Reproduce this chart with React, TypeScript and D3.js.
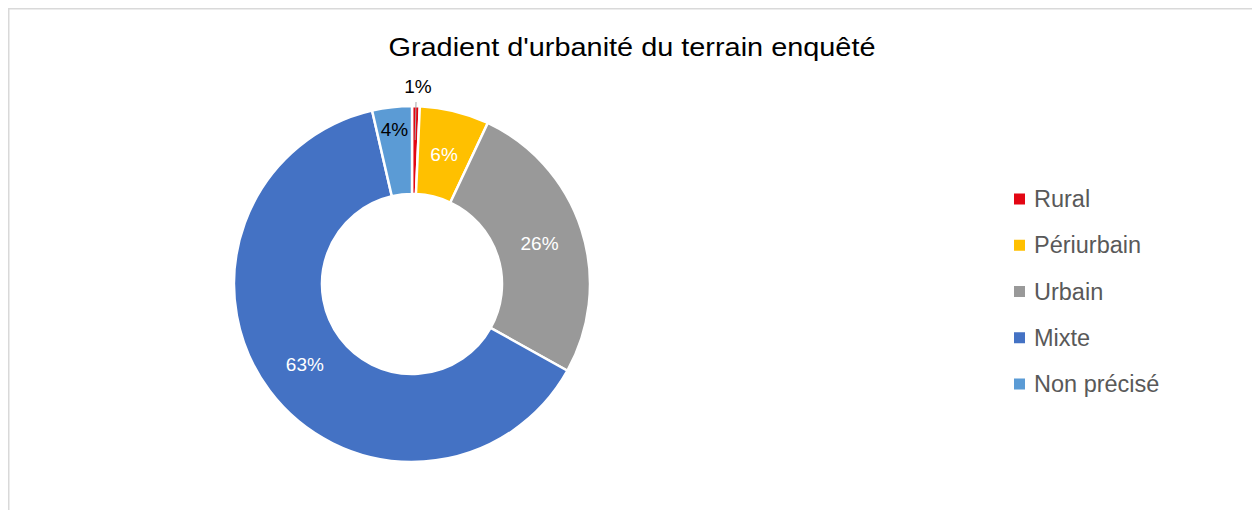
import React from "react";
import * as d3 from "d3";

const categories = ["Rural", "Périurbain", "Urbain", "Mixte", "Non précisé"];
const values = [0.7, 6.3, 26.1, 63.3, 3.6];
const colors = ["#E30613", "#FFC000", "#999999", "#4472C4", "#5B9BD5"];
const labelColors = ["#000000", "#FFFFFF", "#FFFFFF", "#FFFFFF", "#000000"];
const title = "Gradient d'urbanité du terrain enquêté";

const W = 1252;
const H = 510;
const cx = 412;
const cy = 284;
const outerR = 178;
const innerR = 90;

export default function App() {
  const data = categories.map((c, i) => ({ name: c, value: values[i], i }));
  const pie = d3.pie<any>().value((d: any) => d.value).sort(null);
  const arcs = pie(data);
  const arc = d3.arc<any>().innerRadius(innerR).outerRadius(outerR);
  const labelArc = d3.arc<any>().innerRadius(innerR + 22).outerRadius(outerR + 22);
  const fmt = (v: number) => `${Math.round(v)}%`;
  const legendY = d3.scalePoint<string>().domain(categories).range([199, 384]);

  return (
    <svg
      width={W}
      height={H}
      style={{ position: "absolute", left: 0, top: 0, fontFamily: "'Liberation Sans', Arial, sans-serif" }}
    >
      <rect x={0} y={0} width={W} height={H} fill="#fff" />
      <rect x={8.75} y={8.75} width={W + 10} height={H + 10} fill="#fff" stroke="#d9d9d9" strokeWidth={1.5} />
      <text x={632} y={56} textAnchor="middle" fontSize={25} fill="#000" textLength={487} lengthAdjust="spacingAndGlyphs">
        {title}
      </text>
      <g transform={`translate(${cx},${cy})`}>
        {arcs.map((a, i) => (
          <path key={i} d={arc(a) || ""} fill={colors[i]} stroke="#fff" strokeWidth={2.5} />
        ))}
        {arcs.map((a, i) => {
          if (i === 0) {
            const mid = (a.startAngle + a.endAngle) / 2;
            const x1 = Math.sin(mid) * (outerR - 34);
            const y1 = -Math.cos(mid) * (outerR - 34);
            const x2 = Math.sin(mid) * (outerR + 4);
            const y2 = -Math.cos(mid) * (outerR + 4);
            return (
              <g key={i}>
                <line x1={x1} y1={y1} x2={x2} y2={y2} stroke="#a6a6a6" strokeWidth={1} />
                <text x={x2 + 2} y={y2 - 9} textAnchor="middle" fontSize={19} fill={labelColors[i]}>
                  {fmt(values[i])}
                </text>
              </g>
            );
          }
          const [x, y] = (i === 4 ? labelArc : arc).centroid(a);
          return (
            <text key={i} x={x} y={y} dy="0.35em" textAnchor="middle" fontSize={19} fill={labelColors[i]}>
              {fmt(values[i])}
            </text>
          );
        })}
      </g>
      <g>
        {categories.map((c, i) => (
          <g key={c} transform={`translate(1014,${legendY(c)})`}>
            <rect x={0} y={-5.5} width={11} height={11} fill={colors[i]} />
            <text x={20} y={0} dy="0.35em" fontSize={23.5} fill="#595959">
              {c}
            </text>
          </g>
        ))}
      </g>
    </svg>
  );
}
